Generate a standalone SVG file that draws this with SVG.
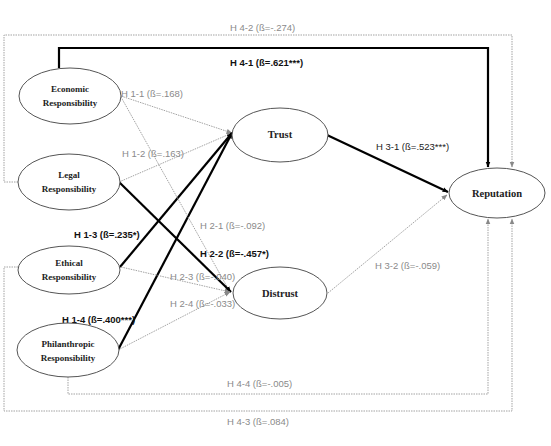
<svg xmlns="http://www.w3.org/2000/svg" width="551" height="446" viewBox="0 0 551 446">
<style>
.node ellipse{fill:#fff;stroke:#555;stroke-width:1}
.nt{font-family:"Liberation Serif","Times New Roman",serif;font-weight:bold;font-size:9px;fill:#222;text-anchor:middle}
.nt2{font-family:"Liberation Serif","Times New Roman",serif;font-weight:bold;font-size:10.5px;fill:#222;text-anchor:middle}
.thick{fill:none;stroke:#000;stroke-width:2.2}
.dot{fill:none;stroke:#999;stroke-width:0.9;stroke-dasharray:1.5 1}
.lg{font-family:"Liberation Sans",Arial,sans-serif;font-size:9.5px;fill:#8a8a8a}
.lb{font-family:"Liberation Sans",Arial,sans-serif;font-size:9.5px;font-weight:bold;fill:#111}
.lm{font-family:"Liberation Sans",Arial,sans-serif;font-size:9.5px;fill:#222}
</style>
<defs>
<marker id="ab" viewBox="0 0 10 10" refX="9" refY="5" markerWidth="6" markerHeight="6" markerUnits="userSpaceOnUse" orient="auto"><path d="M0,1 L10,5 L0,9 z" fill="#000"/></marker>
<marker id="ag" viewBox="0 0 10 10" refX="9" refY="5" markerWidth="6" markerHeight="6" markerUnits="userSpaceOnUse" orient="auto"><path d="M0,1 L10,5 L0,9 z" fill="#888"/></marker>
</defs>
<rect width="551" height="446" fill="#fff"/>
<g id="connectors">
<path class="dot" d="M18,182 H4 V35 H512 V167" marker-end="url(#ag)"/>
<path class="thick" d="M59,68 V48 H488 V167" marker-end="url(#ab)"/>
<path class="dot" d="M18,267 H4 V411 H512 V219" marker-end="url(#ag)"/>
<path class="dot" d="M68,377 V394 H488 V219" marker-end="url(#ag)"/>
<path class="dot" d="M121,96 L232,133" marker-end="url(#ag)"/>
<path class="dot" d="M119,182 L232,133" marker-end="url(#ag)"/>
<path class="thick" d="M120,267 L232,133" marker-end="url(#ab)"/>
<path class="thick" d="M118,350 L232,133" marker-end="url(#ab)"/>
<path class="dot" d="M121,97 L230,292" marker-end="url(#ag)"/>
<path class="thick" d="M119,182 L231,292" marker-end="url(#ab)"/>
<path class="dot" d="M121,267 L230,292" marker-end="url(#ag)"/>
<path class="dot" d="M118,350 L230,292" marker-end="url(#ag)"/>
<path class="thick" d="M327,135 L448,192" marker-end="url(#ab)"/>
<path class="dot" d="M328,293 L447,195" marker-end="url(#ag)"/>
</g>
<g id="labels">
<text class="lg" x="230" y="31">H 4-2 (ß=-.274)</text>
<text class="lb" x="230" y="66">H 4-1 (ß=.621***)</text>
<text class="lg" x="121" y="97">H 1-1 (ß=.168)</text>
<text class="lg" x="122" y="157">H 1-2 (ß=.163)</text>
<text class="lm" x="376" y="150">H 3-1 (ß=.523***)</text>
<text class="lg" x="200" y="229">H 2-1 (ß=-.092)</text>
<text class="lb" x="74" y="238">H 1-3 (ß=.235*)</text>
<text class="lb" x="200" y="257">H 2-2 (ß=-.457*)</text>
<text class="lg" x="375" y="269">H 3-2 (ß=-.059)</text>
<text class="lg" x="170" y="280">H 2-3 (ß=-.040)</text>
<text class="lg" x="170" y="307">H 2-4 (ß=-.033)</text>
<text class="lb" x="62" y="323">H 1-4 (ß=.400***)</text>
<text class="lg" x="227" y="387">H 4-4 (ß=-.005)</text>
<text class="lg" x="227" y="425">H 4-3 (ß=.084)</text>
</g>
<g id="economic" class="node"><ellipse cx="70" cy="96" rx="51" ry="28"/><text class="nt" x="70" y="92">Economic</text><text class="nt" x="70" y="106">Responsibility</text></g>
<g id="legal" class="node"><ellipse cx="69" cy="182" rx="51" ry="28"/><text class="nt" x="69" y="178">Legal</text><text class="nt" x="69" y="192">Responsibility</text></g>
<g id="ethical" class="node"><ellipse cx="69" cy="270" rx="51" ry="24"/><text class="nt" x="69" y="266">Ethical</text><text class="nt" x="69" y="280">Responsibility</text></g>
<g id="philanthropic" class="node"><ellipse cx="68" cy="350" rx="51" ry="27"/><text class="nt" x="68" y="347">Philanthropic</text><text class="nt" x="68" y="361">Responsibility</text></g>
<g id="trust" class="node"><ellipse cx="280" cy="135" rx="48" ry="27"/><text class="nt2" x="280" y="138">Trust</text></g>
<g id="distrust" class="node"><ellipse cx="280" cy="293" rx="47" ry="26"/><text class="nt2" x="280" y="297">Distrust</text></g>
<g id="reputation" class="node"><ellipse cx="497" cy="193" rx="48" ry="25"/><text class="nt2" x="497" y="197">Reputation</text></g>
</svg>
